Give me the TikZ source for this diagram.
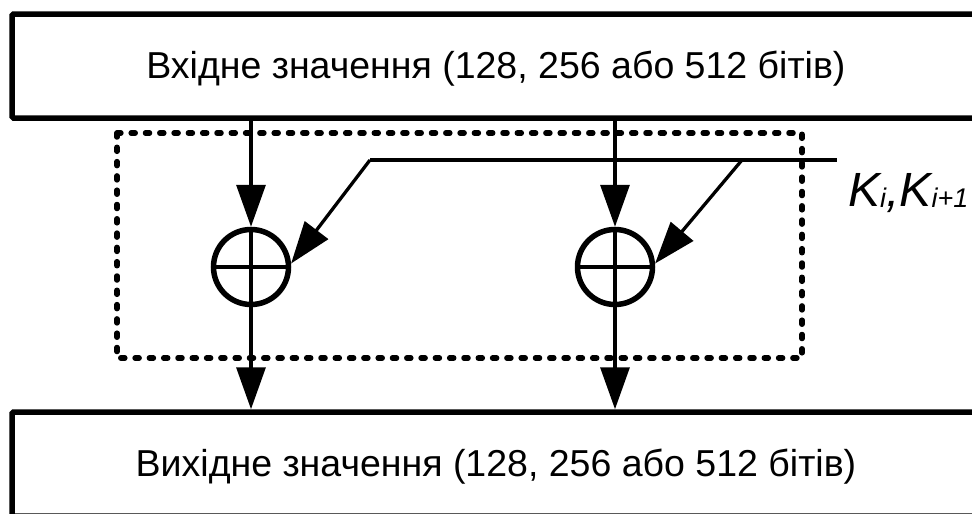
\documentclass[tikz,border=0pt]{standalone}
\usepackage{fontspec}
\setmainfont{Liberation Sans}
\usetikzlibrary{arrows.meta}
\newcommand\keyidx[1]{\raisebox{-1pt}{\fontsize{27}{27}\selectfont #1}}
\begin{document}
\begin{tikzpicture}[x=1pt,y=-1pt,
  block/.style={draw, line width=5.5pt, rounded corners=1.5pt,
    minimum width=968pt, minimum height=104pt, inner sep=0pt,
    text height=25pt, text depth=0pt, font=\fontsize{37.5}{40}\selectfont},
  xor/.style={circle, draw, line width=5.5pt, minimum size=75pt, inner sep=0pt,
    path picture={\draw[line width=3.5pt]
      (path picture bounding box.west) -- (path picture bounding box.east)
      (path picture bounding box.north) -- (path picture bounding box.south);}},
  flow/.style={line width=3.3pt, -{Triangle[length=42pt,width=29pt]}},
  keyline/.style={line width=3.3pt},
  frame/.style={line width=5.5pt, dash pattern=on 4pt off 10.3pt,
    line cap=round, line join=round},
  keylabel/.style={anchor=base west, inner sep=0pt,
    font=\fontsize{48}{48}\selectfont\itshape},
]
\useasboundingbox (0,0) rectangle (972,514);
\clip (0,0) rectangle (972,514);

% input and output blocks (they run past the right edge)
\node[block] (in)  at (496,66)  {Вхідне значення (128, 256 або 512 бітів)};
\node[block] (out) at (496,464) {Вихідне значення (128, 256 або 512 бітів)};

% round-key addition frame
\draw[frame] (117,133) rectangle (802,358);

% XOR adders
\node[xor] (x1) at (251,267) {};
\node[xor] (x2) at (615,267) {};

% round key bus
\coordinate (ka) at (370,160);
\coordinate (kb) at (742,160);
\coordinate (kc) at (837,160);
\draw[keyline] (ka) -- (kc);
\node[keylabel] (key) at (848,206) {K\keyidx{i},K\keyidx{i+1}};

% data flow
\draw[flow] (in.south -| x1) -- (x1.north);
\draw[flow] (in.south -| x2) -- (x2.north);
\draw[flow] (ka) -- (x1.5);
\draw[flow] (kb) -- (x2.5);
\draw[flow] (x1.south) -- (x1.south |- out.north);
\draw[flow] (x2.south) -- (x2.south |- out.north);
\end{tikzpicture}
\end{document}
